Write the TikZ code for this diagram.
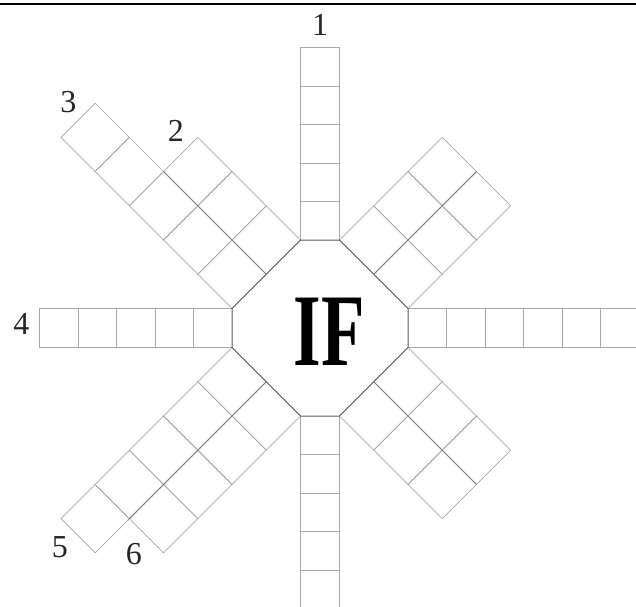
\documentclass[tikz,border=0pt]{standalone}
\usepackage{fontspec}
\setmainfont{Liberation Serif}

\begin{document}
\begin{tikzpicture}[x=1pt, y=1pt]
\tikzstyle{cell} = [draw=black!35, line width=0.7pt]
\tikzstyle{seam} = [draw=black!50, line width=0.8pt]
\tikzstyle{board} = [draw=black!60, line width=0.8pt]
\tikzstyle{num} = [text=black!85, font=\fontsize{32}{32}\selectfont, inner sep=0pt]
\tikzstyle{title} = [font=\bfseries\fontsize{103}{103}\selectfont, xscale=0.69, inner sep=0pt]

\def\ha{19.5}  % half width of a straight arm
\def\hw{88}    % half width of the octagon
\def\sq{38.5}  % straight cell
\def\dm{76}    % centre to a slanted side
\def\dq{48.4}  % slanted cell

\useasboundingbox (-320,-278) rectangle (316,328);
\clip (-320,-278) rectangle (316,328);
\draw[line width=2.5pt] (-320,324) -- (316,324);

% straight arms
\foreach \ang/\n in {90/5, 180/5, 0/6, 270/5} {
  \begin{scope}[rotate=\ang]
    \foreach \i in {1,...,\n}
      \draw[cell] ({\hw+(\i-1)*\sq}, -\ha) rectangle ++(\sq, 2*\ha);
  \end{scope}
}

% slanted arms, two strips each
\foreach \ang/\na/\nb in {45/3/3, 135/5/3, 225/4/5, 315/3/3} {
  \begin{scope}[rotate=\ang]
    \foreach \i in {1,...,\na}
      \draw[cell] ({\dm+(\i-1)*\dq}, 0) rectangle ++(\dq, \dq);
    \foreach \i in {1,...,\nb}
      \draw[cell] ({\dm+(\i-1)*\dq}, 0) rectangle ++(\dq, -\dq);
    \pgfmathsetmacro{\len}{min(\na,\nb)*\dq}
    \draw[seam] (\dm,0) -- ++(\len,0);
  \end{scope}
}

% octagon
\draw[board] (\ha,\hw) -- (\hw,\ha) -- (\hw,-\ha) -- (\ha,-\hw) -- (-\ha,-\hw) -- (-\hw,-\ha) -- (-\hw,\ha) -- (-\ha,\hw) -- cycle;

\node[title] (if) at (9,-4) {IF};
\node[num] (n1) at (0,303.5) {1};
\node[num] (n2) at (-144,197) {2};
\node[num] (n3) at (-251.5,226) {3};
\node[num] (n4) at (-298.5,4) {4};
\node[num] (n5) at (-260,-219) {5};
\node[num] (n6) at (-186,-226.5) {6};
\end{tikzpicture}
\end{document}
